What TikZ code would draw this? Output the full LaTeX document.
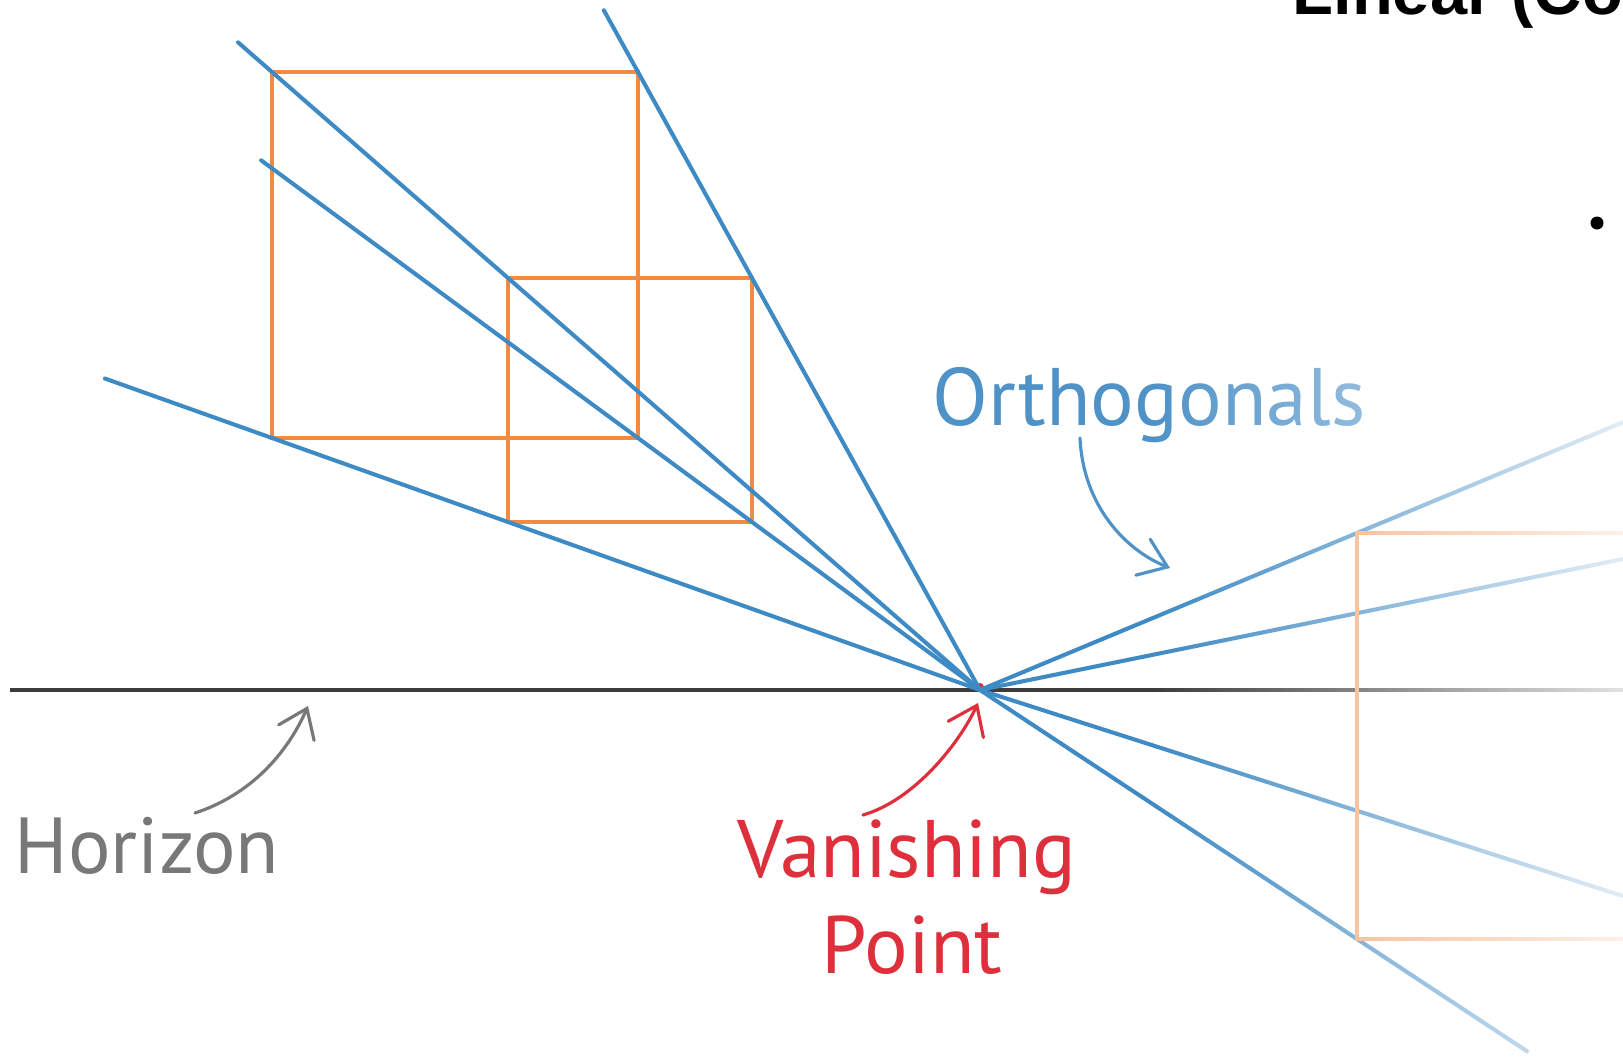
\documentclass[tikz,border=0pt]{standalone}
\usepackage{fontspec}
\setmainfont{Liberation Sans}
\newfontfamily\handfont{PT Sans}
\usetikzlibrary{arrows.meta,calc,fadings}
\definecolor{lineblue}{RGB}{62,138,196}
\definecolor{sqorange}{RGB}{242,138,68}
\definecolor{horgray}{RGB}{60,60,60}
\definecolor{labgray}{RGB}{120,120,120}
\definecolor{labred}{RGB}{222,48,60}
\definecolor{labblue}{RGB}{78,146,200}
\tikzfading[name=rightfade, left color=transparent!100, middle color=transparent!80, right color=transparent!15]
\tikzset{
  persp/.style={lineblue, line width=1.15pt, line cap=round},
  sq/.style={sqorange, line width=1.15pt},
  hz/.style={horgray, line width=1.4pt},
  lab/.style={font=\handfont\fontsize{23.2pt}{28pt}\selectfont, inner sep=0pt, anchor=base},
  callout/.style={line width=0.9pt, line cap=round, -{Straight Barb[length=7.5pt,width=11pt,line cap=round]}},
}
\begin{document}
\begin{tikzpicture}[x=0.01cm,y=-0.01cm]
\useasboundingbox (0,0) rectangle (1623,1057);
\clip (0,0) rectangle (1623,1057);
\fill[white] (0,0) rectangle (1623,1057);
% vanishing point and horizon
\coordinate (VP) at (980,690);
\coordinate (hzL) at (10,690);
\coordinate (hzR) at (1623,690);
\draw[hz] (hzL) -- (hzR);
\fill[labred] (980,687) circle (4);
% left squares
\coordinate (BTL) at (272,72);
\coordinate (BTR) at (638,72);
\coordinate (BBR) at (638,438);
\coordinate (BBL) at (272,438);
\coordinate (STL) at ($(VP)!0.6667!(BTL)$);
\coordinate (SBR) at ($(VP)!0.6667!(BBR)$);
\draw[sq] (BTL) rectangle (BBR);
\draw[sq] (STL) rectangle (SBR);
% orthogonals (left)
\coordinate (e1) at ($(VP)!1.048!(BTL)$);
\coordinate (e2) at ($(VP)!2.102!(BBR)$);
\coordinate (e3) at ($(VP)!1.236!(BBL)$);
\coordinate (e4) at ($(VP)!1.10!(BTR)$);
\draw[persp] (VP) -- (e1);
\draw[persp] (VP) -- (e2);
\draw[persp] (VP) -- (e3);
\draw[persp] (VP) -- (e4);
% orthogonals (right)
\coordinate (RTL) at (1357,533);
\coordinate (RBL) at (1357,939);
\coordinate (RTR) at (1640,533);
\coordinate (RBR) at (1640,939);
\coordinate (f1) at ($(VP)!1.7056!(RTL)$);
\coordinate (f2) at (1623,559);
\coordinate (f3) at (1623,896);
\coordinate (f4) at ($(VP)!1.451!(RBL)$);
\draw[persp] (VP) -- (f1);
\draw[persp] (VP) -- (f2);
\draw[persp] (VP) -- (f3);
\draw[persp] (VP) -- (f4);
% right square (over the lines and horizon)
\draw[sq, sqorange!80] (RTR) -- (RTL) -- (RBL) -- (RBR);
% labels
\node[lab, labgray, anchor=base west, font=\handfont\fontsize{22.6pt}{28pt}\selectfont] (horizon) at (14,873) {Horizon};
\node[lab, labred] (vanish) at (907,877) {Vanishing};
\node[lab, labred] (point) at (912,973) {Point};
\node[lab, labblue] (ortho) at (1149,425) {Orthogonals};
% callout arrows
\coordinate (hs) at (195,813);
\coordinate (ht) at (308,706);
\draw[callout, labgray] (hs) .. controls (250,795) and (287,754) .. (ht);
\coordinate (vs) at (863,815);
\coordinate (vt) at (978,703);
\draw[callout, labred] (vs) .. controls (915,800) and (960,742) .. (vt);
\coordinate (os) at (1080,438);
\coordinate (ot) at (1170,568);
\draw[callout, labblue] (os) .. controls (1083,505) and (1125,550) .. (ot);
% fade on the right
\fill[white, path fading=rightfade] (1150,45) rectangle (1623,1057);
% cut-off title and bullet
\node[font=\bfseries\fontsize{19pt}{22pt}\selectfont, anchor=base west, inner sep=0pt] (title) at (1292,14) {Linear (Co};
\node[circle, fill=black, inner sep=0pt, minimum size=0.13cm] (bullet) at (1597,223) {};
\end{tikzpicture}
\end{document}
